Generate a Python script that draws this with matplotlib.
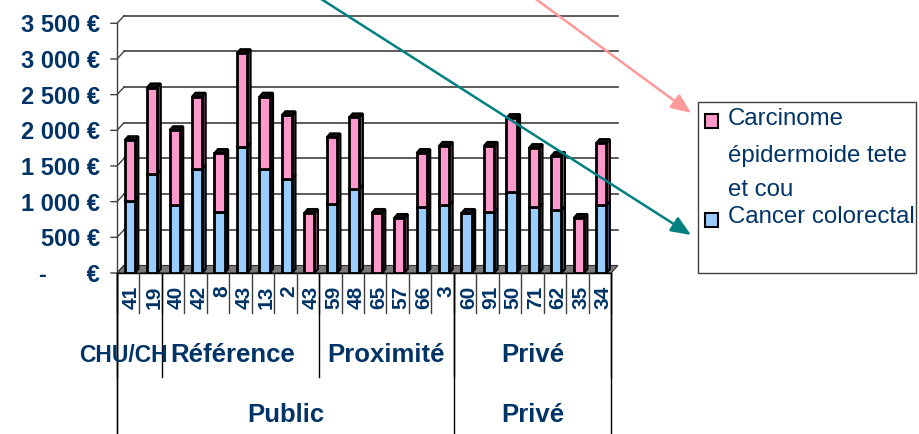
import matplotlib
matplotlib.use("Agg")
import matplotlib.pyplot as plt
from matplotlib.patches import Polygon, Rectangle
from matplotlib.transforms import blended_transform_factory
import numpy as np

# ---------------- data ----------------
hospitals = ['41', '19', '40', '42', '8', '43', '13', '2', '43', '59', '48',
             '65', '57', '66', '3', '60', '91', '50', '71', '62', '35', '34']
colorectal = [1010, 1390, 950, 1460, 850, 1770, 1460, 1320, 0, 970, 1180,
              0, 0, 920, 950, 840, 850, 1130, 920, 880, 0, 950]
carcinome = [850, 1210, 1050, 1010, 830, 1310, 1010, 890, 840, 930, 1000,
             840, 770, 760, 830, 0, 930, 1040, 830, 760, 770, 870]
series_names = ['Carcinome\népidermoide tete\net cou', 'Cancer colorectal']
level1_names = ['CHU/CH', 'Référence', 'Proximité', 'Privé']
level1_sizes = [2, 7, 6, 7]
level2_names = ['Public', 'Privé']
level2_sizes = [15, 7]
yticks = [0, 500, 1000, 1500, 2000, 2500, 3000, 3500]

# ---------------- style ----------------
NAVY = '#003366'
BLUE, BLUE_D = '#99CCFF', '#4d6f99'
PINK, PINK_D = '#FF99CC', '#995c7a'
FONT = 'Liberation Sans'

W, H = 919, 434
fig = plt.figure(figsize=(W / 100, H / 100), dpi=100)
x0, x1 = 117, 611
yb, yt = 273, 23.3
ax = fig.add_axes([x0 / W, (H - yb) / H, (x1 - x0) / W, (yb - yt) / H])
n = len(hospitals)
ax.set_xlim(0, n)
ax.set_ylim(0, yticks[-1])
ux = (x1 - x0) / n
uy = (yb - yt) / yticks[-1]


def px(dx, dy):
    return dx / ux, dy / uy


for s in ['top', 'right', 'left']:
    ax.spines[s].set_visible(False)
ax.spines['bottom'].set_color('black')
ax.spines['bottom'].set_linewidth(1.0)
ax.patch.set_alpha(0)

# back wall gridlines with diagonal connectors + ticks
dxb, dyb = px(7, 7.5)
tkx, _ = px(6, 0)
for v in yticks:
    if v > 0:
        ax.plot([dxb, n + dxb], [v + dyb, v + dyb], color='#404040', lw=1.2,
                zorder=1, clip_on=False)
    ax.plot([-tkx, 0, dxb], [v, v, v + dyb], color='#404040', lw=1.0,
            zorder=1, clip_on=False)

# floor
ax.add_patch(Polygon([(0, 0), (n, 0), (n + dxb, dyb), (dxb, dyb)],
                     closed=True, facecolor='#7a7a7a', edgecolor='#303030',
                     lw=0.8, zorder=2, clip_on=False))

# bars
dxs, dys = px(3.5, 4.0)
centers = np.arange(n) + 0.5 + px(1.5, 0)[0]
bw = 0.45
bottom = np.zeros(n)
tops = np.array(colorectal) + np.array(carcinome)
for vals, col, dark in [(colorectal, BLUE, BLUE_D), (carcinome, PINK, PINK_D)]:
    vals = np.array(vals, dtype=float)
    bars = ax.bar(centers, vals, bw, bottom=bottom, color=col,
                  edgecolor='black', linewidth=2.0, zorder=5)
    for rect, v, b, t in zip(bars, vals, bottom, tops):
        if v <= 0:
            continue
        xl = rect.get_x()
        xr = xl + rect.get_width()
        top = b + v
        ax.add_patch(Polygon([(xr, b), (xr + dxs, b + dys), (xr + dxs, top + dys), (xr, top)],
                             closed=True, facecolor=dark, edgecolor='black',
                             lw=1.6, zorder=4, clip_on=False))
        if abs(top - t) < 1e-6:
            ax.add_patch(Polygon([(xl, top), (xl + dxs, top + dys), (xr + dxs, top + dys), (xr, top)],
                                 closed=True, facecolor='#101010', edgecolor='black',
                                 lw=1.6, zorder=4, clip_on=False))
    bottom = bottom + vals

# y tick labels
ylabels = [('{:,}'.format(v).replace(',', ' ') + ' €') if v else '-      €' for v in yticks]
ax.set_yticks(yticks, ylabels)
ax.tick_params(axis='y', length=0, pad=12.2)
for lab in ax.get_yticklabels():
    lab.set_fontfamily(FONT)
    lab.set_fontweight('bold')
    lab.set_fontsize(17)
    lab.set_color(NAVY)

# x tick labels
ax.set_xticks(np.arange(n) + 0.5 + 0.15, hospitals, rotation=90)
ax.tick_params(axis='x', length=0, pad=9)
for lab in ax.get_xticklabels():
    lab.set_fontfamily(FONT)
    lab.set_fontweight('bold')
    lab.set_fontsize(15)
    lab.set_color(NAVY)

# ---------------- overlay in pixel coordinates ----------------
ov = fig.add_axes([0, 0, 1, 1], zorder=10)
ov.set_xlim(0, W)
ov.set_ylim(H, 0)
ov.axis('off')
ov.patch.set_alpha(0)
bt = blended_transform_factory(ax.transData, ov.transData)

# left axis line
ov.plot([x0, x0], [yt, H], color='#404040', lw=1.0)

# category separators
for k in range(n + 1):
    ov.plot([k, k], [yb, 313], color='#404040', lw=1.0, transform=bt)
b1 = np.concatenate([[0], np.cumsum(level1_sizes)])
for k in b1:
    ov.plot([k, k], [yb, 377], color='black', lw=1.0, transform=bt)
b2 = np.concatenate([[0], np.cumsum(level2_sizes)])
for k in b2:
    ov.plot([k, k], [yb, H], color='black', lw=1.0, transform=bt)

# group labels
l1_shift = [-0.7, -0.35, 0.0, 0.0]
l1_size = [16.5, 18.5, 18.5, 18.5]
for name, a, b, sh, fs in zip(level1_names, b1[:-1], b1[1:], l1_shift, l1_size):
    ov.text((a + b) / 2 + sh, 355, name, transform=bt, ha='center', va='center',
            fontsize=fs, fontweight='bold', color=NAVY, family=FONT)
for name, a, b in zip(level2_names, b2[:-1], b2[1:]):
    ov.text((a + b) / 2, 415, name, transform=bt, ha='center', va='center',
            fontsize=18.5, fontweight='bold', color=NAVY, family=FONT)

# legend
ov.add_patch(Rectangle((698, 102), 218, 171, facecolor='white', edgecolor='#404040', lw=1.0))
legend_rows = [(121, PINK, [119, 156, 190]), (220, BLUE, [217])]
for name, (sy, col, ys) in zip(series_names, legend_rows):
    ov.add_patch(Rectangle((705, sy - 7), 13, 14, facecolor=col, edgecolor='black', lw=1.5))
    for line, y in zip(name.split('\n'), ys):
        ov.text(728, y, line, ha='left', va='center', fontsize=17.3,
                color=NAVY, family=FONT)

# arrows
ov.annotate('', xy=(691, 113), xytext=(533, -3),
            arrowprops=dict(arrowstyle='-|>,head_length=1.2,head_width=0.5',
                            color='#FF9999', lw=1.8, shrinkA=0, shrinkB=0,
                            mutation_scale=10))
ov.annotate('', xy=(691, 235), xytext=(318, -3),
            arrowprops=dict(arrowstyle='-|>,head_length=1.2,head_width=0.5',
                            color='#008080', lw=1.8, shrinkA=0, shrinkB=0,
                            mutation_scale=10))

fig.savefig('out.png', dpi=100)
